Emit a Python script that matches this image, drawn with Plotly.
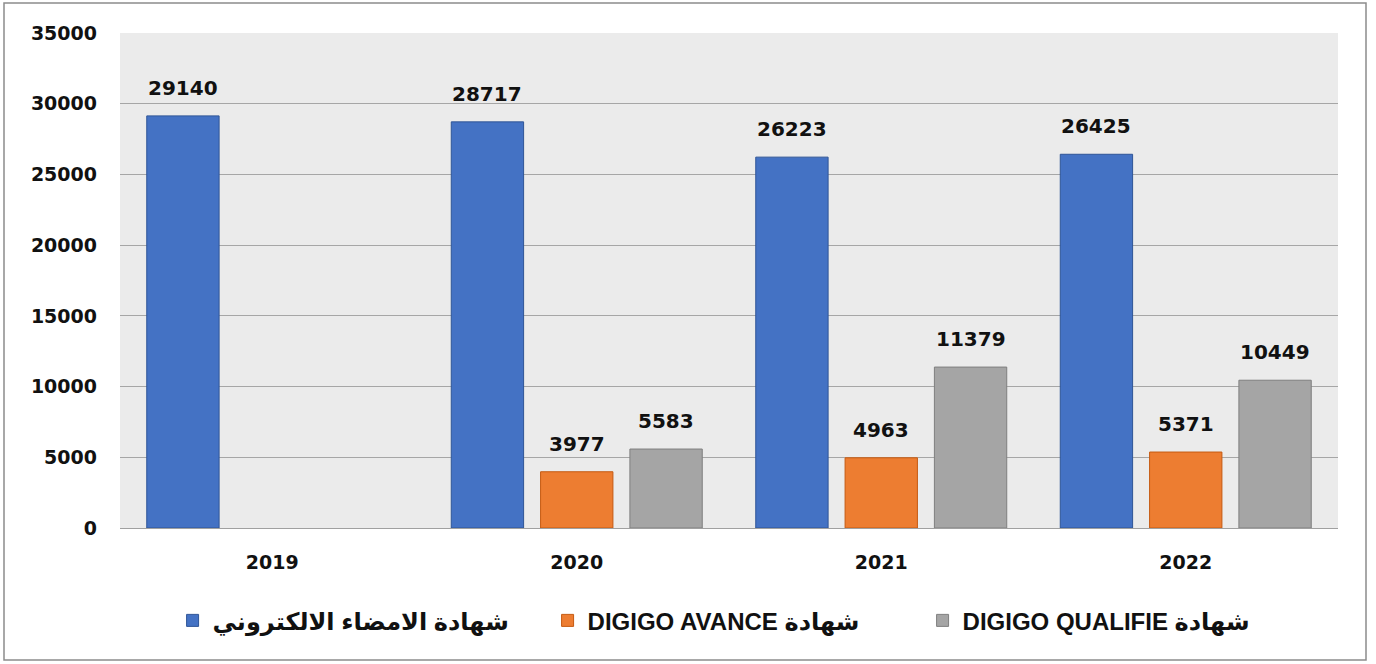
import plotly.graph_objects as go

years = ["2019", "2020", "2021", "2022"]
sig_values = [29140, 28717, 26223, 26425]
avance_values = [None, 3977, 4963, 5371]
qualifie_values = [None, 5583, 11379, 10449]
series_names = ["شهادة الامضاء الالكتروني", "DIGIGO AVANCE شهادة", "DIGIGO QUALIFIE شهادة"]
y_ticks = [0, 5000, 10000, 15000, 20000, 25000, 30000, 35000]

colors = ["#4472C4", "#ED7D31", "#A5A5A5"]
lines = ["#2F5597", "#C55A11", "#7F7F7F"]
FONT = "DejaVu Sans"

L, R, T, B = 120, 38, 33, 136
W, H = 1376, 664
pw, ph = W - L - R, H - T - B
BARGAP, GROUPGAP = 0.12, 0.19
slot = pw / len(years) * (1 - BARGAP) / 3

fig = go.Figure()
annotations = []
all_series = [sig_values, avance_values, qualifie_values]
for i, (name, vals, c, lc) in enumerate(zip(series_names, all_series, colors, lines)):
    fig.add_trace(go.Bar(
        x=years, y=vals, name=name,
        marker=dict(color=c, line=dict(color=lc, width=1)),
    ))
    for j, v in enumerate(vals):
        if v is None:
            continue
        annotations.append(dict(
            x=j, y=v, xref="x", yref="y", text=str(v), showarrow=False,
            xanchor="center", yanchor="bottom", xshift=(i - 1) * slot, yshift=14,
            font=dict(family=FONT, size=20, color="#111111", weight="bold"),
        ))

fig.update_layout(
    width=W, height=H,
    margin=dict(l=L, r=R, t=T, b=B, pad=0),
    paper_bgcolor="white",
    plot_bgcolor="#EBEBEB",
    barmode="group",
    bargap=BARGAP,
    bargroupgap=GROUPGAP,
    showlegend=True,
    annotations=annotations,
    legend=dict(
        orientation="h", x=0.505, xanchor="center", y=-0.142, yanchor="top",
        font=dict(family="Liberation Sans Narrow, Liberation Sans, " + FONT, size=24, color="#111111", weight="bold"),
        traceorder="normal", itemwidth=30, entrywidth=330, entrywidthmode="pixels",
    ),
    xaxis=dict(
        type="category", categoryorder="array", categoryarray=years,
        range=[-0.5, len(years) - 0.5],
        tickfont=dict(family=FONT, size=19, color="#111111", weight="bold"),
        showgrid=False, showline=True, linecolor="#A0A0A0", linewidth=1,
        ticks="", ticklen=0, ticklabelstandoff=17,
    ),
    yaxis=dict(
        range=[0, 35000], tickvals=y_ticks, ticktext=[str(v) for v in y_ticks],
        tickfont=dict(family=FONT, size=19, color="#111111", weight="bold"),
        showgrid=True, gridcolor="#A6A6A6", gridwidth=1,
        zeroline=False, showline=False, ticks="", ticklabelstandoff=22,
    ),
    shapes=[dict(
        type="rect", xref="paper", yref="paper",
        x0=(4 - L) / pw, x1=(1366 - L) / pw,
        y0=(H - B - 660) / ph, y1=(H - B - 3) / ph,
        line=dict(color="#8C8C8C", width=1.5), fillcolor="rgba(0,0,0,0)", layer="below",
    )],
)

fig.write_html("out.html", config={"displayModeBar": False},
               post_script="document.body.style.margin='0';")
